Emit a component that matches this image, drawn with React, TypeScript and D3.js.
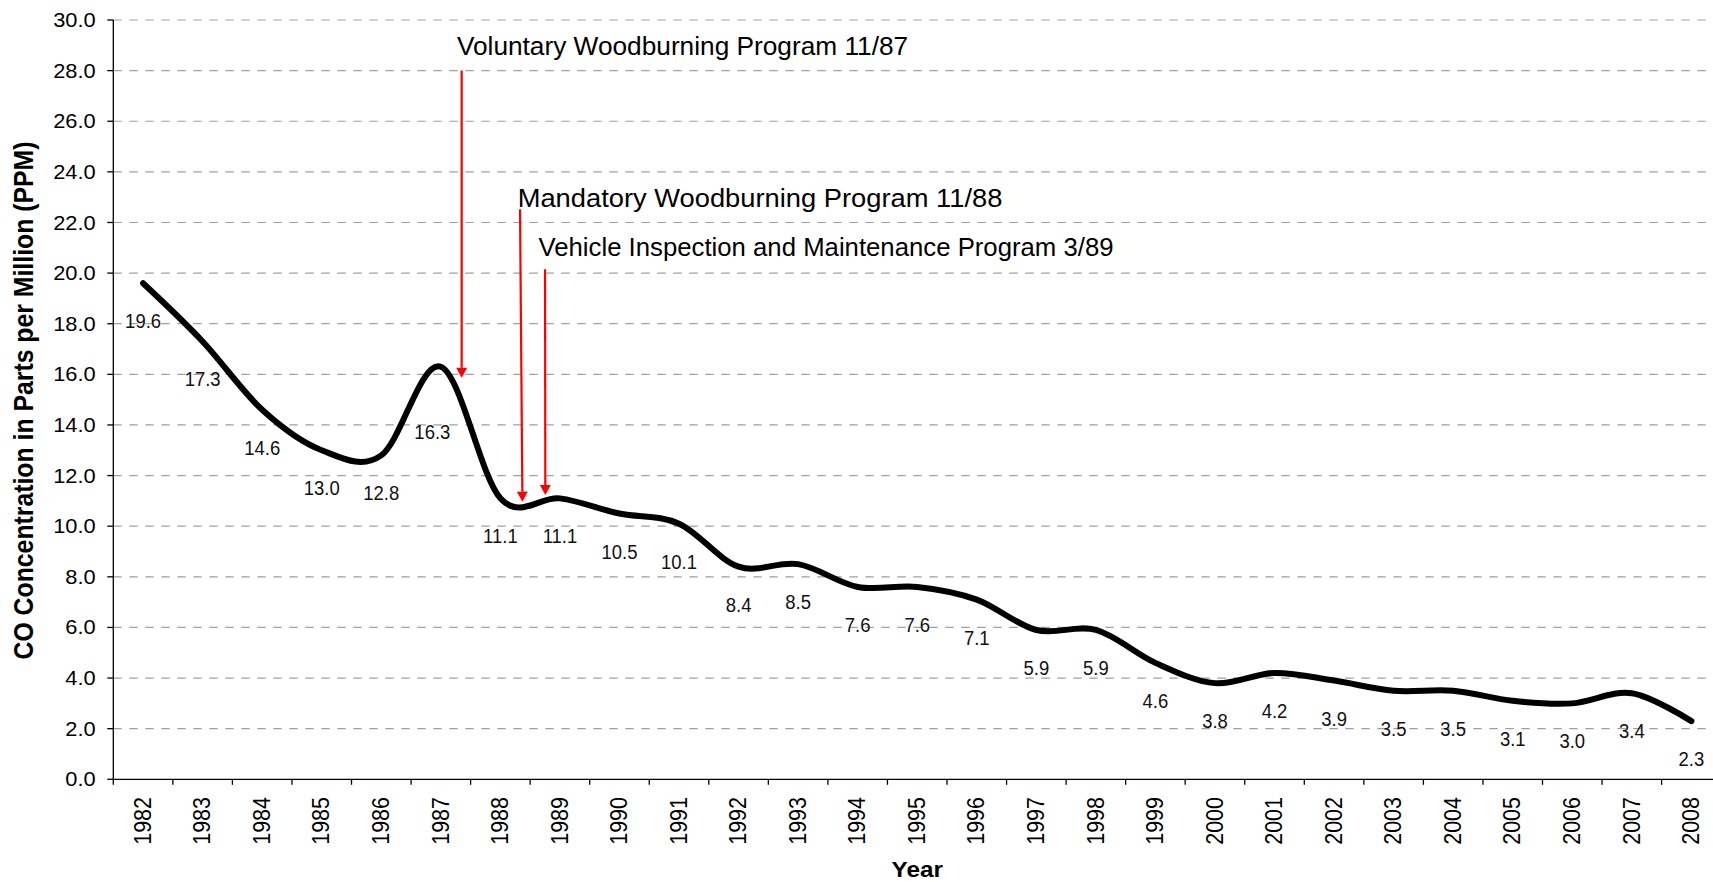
import React from "react";
import * as d3 from "d3";

const years = [
  "1982", "1983", "1984", "1985", "1986", "1987", "1988", "1989", "1990",
  "1991", "1992", "1993", "1994", "1995", "1996", "1997", "1998", "1999",
  "2000", "2001", "2002", "2003", "2004", "2005", "2006", "2007", "2008",
];

const coValues = [
  19.6, 17.3, 14.6, 13.0, 12.8, 16.3, 11.1, 11.1, 10.5, 10.1, 8.4, 8.5, 7.6,
  7.6, 7.1, 5.9, 5.9, 4.6, 3.8, 4.2, 3.9, 3.5, 3.5, 3.1, 3.0, 3.4, 2.3,
];

const yTicks = [0, 2, 4, 6, 8, 10, 12, 14, 16, 18, 20, 22, 24, 26, 28, 30];

const annotationTexts = [
  "Voluntary Woodburning Program 11/87",
  "Mandatory Woodburning Program 11/88",
  "Vehicle Inspection and Maintenance Program 3/89",
];
// text anchor (fractional year, value) and arrow (year top, value top, year tip, value tip)
const annotationTextYear = [1987.27, 1988.29, 1988.64];
const annotationTextValue = [28.62, 22.6, 20.68];
const arrowTopYear = [1987.35, 1988.33, 1988.75];
const arrowTopValue = [28.0, 22.52, 20.15];
const arrowTipYear = [1987.35, 1988.37, 1988.755];
const arrowTipValue = [15.87, 10.97, 11.23];

const yTitle = "CO Concentration in Parts per Million (PPM)";
const xTitle = "Year";

// styles
const annotationStretch = [1.05, 1.093, 1.03];
const W = 1713;
const H = 882;
const FONT = "'Liberation Sans', Arial, Helvetica, sans-serif";

const plotLeft = 113.3;
const band = 59.55;
const plotRight = plotLeft + band * years.length;
const plotTop = 20;
const plotBottom = 779.3;

function SText(props: any) {
  const { x, y, sx = 1, rotate = 0, anchor = "start", size, weight = "normal", dy, fill = "#000", children } = props;
  const tr = `translate(${x},${y}) scale(${sx},1)` + (rotate ? ` rotate(${rotate})` : "");
  return (
    <text
      transform={tr}
      textAnchor={anchor}
      fontSize={size}
      fontWeight={weight}
      fontFamily={FONT}
      dy={dy}
      fill={fill}
    >
      {children}
    </text>
  );
}

export default function App() {
  const xBand = d3.scaleBand<string>().domain(years).range([plotLeft, plotRight]).paddingInner(0).paddingOuter(0);
  const xYear = d3
    .scaleLinear()
    .domain([+years[0] - 0.5, +years[years.length - 1] + 0.5])
    .range([plotLeft, plotRight]);
  const y = d3.scaleLinear().domain([0, 30]).range([plotBottom, plotTop]);

  const cx = (i: number) => (xBand(years[i]) as number) + xBand.bandwidth() / 2;

  const line = d3
    .line<number>()
    .x((_, i) => cx(i))
    .y((v) => y(v))
    .curve(d3.curveCardinal.tension(0));

  const boundaries = years.map((yr) => xBand(yr) as number).concat([plotRight]);

  const movedLabelIndex = years.indexOf("1987");

  return (
    <div style={{ position: "fixed", left: 0, top: 0, width: W, height: H, overflow: "hidden", background: "#fff" }}>
      <svg width={W} height={H} style={{ display: "block" }}>
        <rect x={0} y={0} width={W} height={H} fill="#fff" />
        {/* gridlines */}
        {yTicks
          .filter((t) => t > 0)
          .map((t) => (
            <line
              key={"g" + t}
              x1={plotLeft}
              x2={plotRight}
              y1={y(t)}
              y2={y(t)}
              stroke="#a0a0a0"
              strokeWidth={1.2}
              strokeDasharray="8.5,7.5"
            />
          ))}
        {/* y axis */}
        <line x1={plotLeft} x2={plotLeft} y1={plotTop} y2={plotBottom} stroke="#000" strokeWidth={1.3} />
        {yTicks.map((t) => (
          <g key={"yt" + t}>
            <line x1={plotLeft - 6} x2={plotLeft} y1={y(t)} y2={y(t)} stroke="#000" strokeWidth={1.3} />
            <SText x={95.7} y={y(t)} dy="0.36em" anchor="end" size={19.5} sx={1.12}>
              {t.toFixed(1)}
            </SText>
          </g>
        ))}
        {/* x axis */}
        <line x1={plotLeft} x2={plotRight} y1={plotBottom} y2={plotBottom} stroke="#000" strokeWidth={1.3} />
        {boundaries.map((b, i) => (
          <line key={"xt" + i} x1={b} x2={b} y1={plotBottom} y2={plotBottom + 5.5} stroke="#000" strokeWidth={1.3} />
        ))}
        {years.map((yr, i) => (
          <SText key={"xl" + yr} x={cx(i) - 1.2} y={797} rotate={-90} anchor="end" dy="0.36em" size={21.5} sx={1.15}>
            {yr}
          </SText>
        ))}
        {/* axis titles */}
        <SText x={33.3} y={400.5} rotate={-90} anchor="middle" size={24.8} weight="bold" sx={1.13}>
          {yTitle}
        </SText>
        <SText x={(plotLeft + plotRight) / 2} y={876.5} anchor="middle" size={21.5} weight="bold" sx={1.13}>
          {xTitle}
        </SText>

        {/* data line */}
        <path d={line(coValues) || ""} fill="none" stroke="#000" strokeWidth={6} strokeLinejoin="round" strokeLinecap="round" />

        {/* data labels */}
        {coValues.map((v, i) => {
          const moved = i === movedLabelIndex;
          return (
            <SText
              key={"dl" + i}
              x={cx(i) + (moved ? -8.5 : 0)}
              y={y(v) + (moved ? 72.3 : 45)}
              anchor="middle"
              size={21}
              sx={0.88}
              fill="#111"
            >
              {v.toFixed(1)}
            </SText>
          );
        })}

        {/* annotations */}
        {annotationTexts.map((txt, i) => {
          const x0 = xYear(arrowTopYear[i]);
          const y0 = y(arrowTopValue[i]);
          const x1 = xYear(arrowTipYear[i]);
          const y1 = y(arrowTipValue[i]);
          const headLen = 10;
          const headW = 5.5;
          const ang = Math.atan2(y1 - y0, x1 - x0);
          const bx = x1 - headLen * Math.cos(ang);
          const by = y1 - headLen * Math.sin(ang);
          const px = -Math.sin(ang);
          const py = Math.cos(ang);
          return (
            <g key={"an" + i}>
              <SText x={xYear(annotationTextYear[i])} y={y(annotationTextValue[i])} size={25} sx={annotationStretch[i]}>
                {txt}
              </SText>
              <line x1={x0} y1={y0} x2={bx} y2={by} stroke="#ff0000" strokeWidth={2.2} />
              <path
                d={`M${x1},${y1} L${bx + px * headW},${by + py * headW} L${bx - px * headW},${by - py * headW} Z`}
                fill="#ff0000"
              />
            </g>
          );
        })}
      </svg>
    </div>
  );
}
